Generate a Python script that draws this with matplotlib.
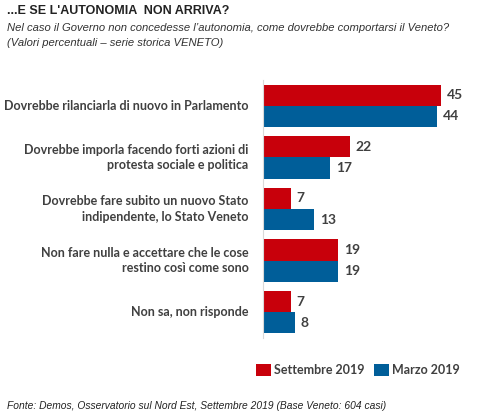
import numpy as np
import matplotlib.pyplot as plt

# dati
categorie = [
    "Dovrebbe rilanciarla di nuovo in Parlamento",
    "Dovrebbe imporla facendo forti azioni di\nprotesta sociale e politica",
    "Dovrebbe fare subito un nuovo Stato\nindipendente, lo Stato Veneto",
    "Non fare nulla e accettare che le cose\nrestino così come sono",
    "Non sa, non risponde",
]
settembre_2019 = [45, 22, 7, 19, 7]
marzo_2019 = [44, 17, 13, 19, 8]
serie = ["Settembre 2019", "Marzo 2019"]

rosso = '#C8000B'
blu = '#005E99'
grigio = '#404040'

W, H = 497, 418
fig = plt.figure(figsize=(W / 100, H / 100), dpi=100)
ax = fig.add_axes([263 / W, 1 - 338 / H, (W - 263) / W, 258 / H])

y = np.arange(len(categorie))
h = 0.41
ax.barh(y - h / 2, settembre_2019, height=h, color=rosso, label=serie[0])
ax.barh(y + h / 2, marzo_2019, height=h, color=blu, label=serie[1])

for i in range(len(categorie)):
    ax.text(settembre_2019[i] + 1.4, y[i] - h / 2, str(settembre_2019[i]),
            va='center', ha='left', fontsize=10, fontweight='bold',
            color=grigio, family='Lato')
    ax.text(marzo_2019[i] + 1.4, y[i] + h / 2, str(marzo_2019[i]),
            va='center', ha='left', fontsize=10, fontweight='bold',
            color=grigio, family='Lato')
    ax.text(-3.6, y[i], categorie[i], va='center', ha='right', fontsize=9.0,
            fontweight='bold', color=grigio, family='Lato', linespacing=1.35)

ax.set_xlim(0, (W - 263) / 3.96)
ax.set_ylim(4.5, -0.5)
ax.set_xticks([])
ax.set_yticks([])
for s in ['top', 'right', 'bottom']:
    ax.spines[s].set_visible(False)
ax.spines['left'].set_color('#D9D9D9')

# titolo e sottotitolo
fig.text(7 / W, 1 - 11 / H, "...E SE L'AUTONOMIA  NON ARRIVA?", fontsize=9,
         fontweight='bold', family='Liberation Sans', va='center', color='#222222')
fig.text(7 / W, 1 - 28 / H,
         "Nel caso il Governo non concedesse l’autonomia, come dovrebbe comportarsi il Veneto?",
         fontsize=8.1, style='italic', family='Liberation Sans', va='center', color='#333333')
fig.text(7 / W, 1 - 43 / H, "(Valori percentuali – serie storica VENETO)",
         fontsize=8.1, style='italic', family='Liberation Sans', va='center', color='#333333')

# legenda
leg = fig.legend(loc='center left', bbox_to_anchor=(245 / W, 1 - 370 / H), ncol=2,
                 frameon=False, handlelength=1.2, handleheight=1.2,
                 columnspacing=0.7, handletextpad=0.25,
                 prop={'family': 'Lato', 'weight': 'bold', 'size': 9.0})
for t in leg.get_texts():
    t.set_color(grigio)

fig.text(7 / W, 1 - 406 / H,
         "Fonte: Demos, Osservatorio sul Nord Est, Settembre 2019 (Base Veneto: 604 casi)",
         fontsize=7.4, style='italic', family='Liberation Sans', va='center', color='#222222')

fig.savefig('out.png', dpi=100)
